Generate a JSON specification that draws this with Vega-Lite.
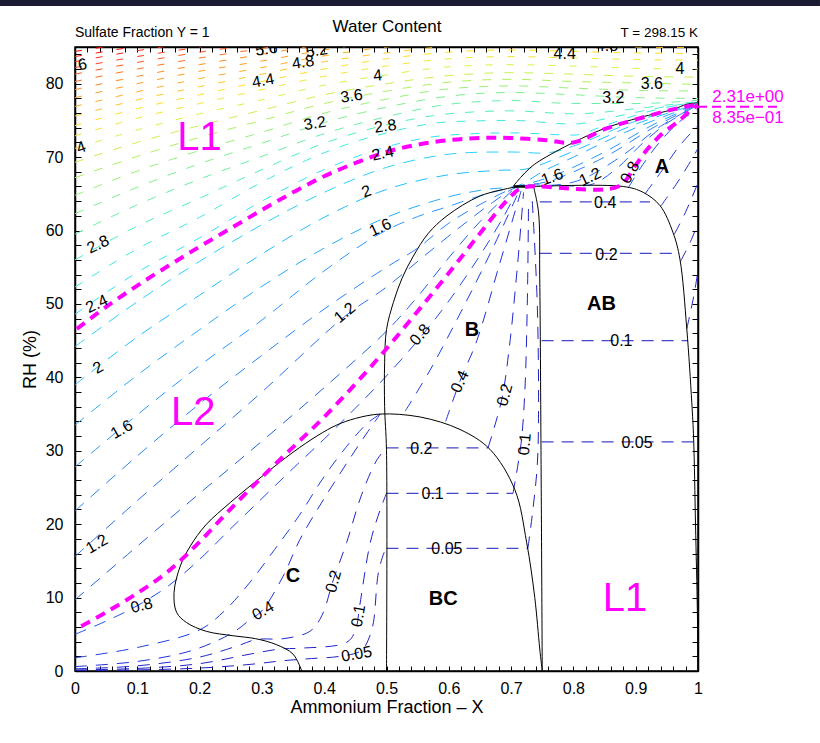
{
"$schema":"https://vega.github.io/schema/vega-lite/v6.json",
"width":623,"height":624,
"autosize":{"type":"none"},
"padding":{"left":75,"top":47,"right":122,"bottom":72},
"background":"white",
"config":{"font":"Liberation Sans","view":{"stroke":"black","strokeWidth":1.5}},
"resolve":{"axis":{"x":"independent","y":"independent"}},
"datasets":{
"cont":[
{"v":2.4,"s":"u24","x":0,"y":48.6},{"v":2.4,"s":"u24","x":0.1,"y":54.3},{"v":2.4,"s":"u24","x":0.2,"y":59.0},{"v":2.4,"s":"u24","x":0.3,"y":64.0},{"v":2.4,"s":"u24","x":0.4,"y":68.3},{"v":2.4,"s":"u24","x":0.5,"y":71.4},{"v":2.4,"s":"u24","x":0.6,"y":73.0},{"v":2.4,"s":"u24","x":0.7,"y":73.3},{"v":2.4,"s":"u24","x":0.8,"y":73.0},{"v":2.4,"s":"u24","x":0.85,"y":74.3},{"v":2.4,"s":"u24","x":0.9,"y":75.7},{"v":2.4,"s":"u24","x":0.95,"y":76.8},{"v":2.4,"s":"u24","x":1,"y":77.38},
{"v":2.6,"s":"u26","x":0,"y":52.3},{"v":2.6,"s":"u26","x":0.1,"y":57.5},{"v":2.6,"s":"u26","x":0.2,"y":61.8},{"v":2.6,"s":"u26","x":0.3,"y":66.6},{"v":2.6,"s":"u26","x":0.4,"y":70.6},{"v":2.6,"s":"u26","x":0.5,"y":73.3},{"v":2.6,"s":"u26","x":0.6,"y":74.8},{"v":2.6,"s":"u26","x":0.7,"y":75.0},{"v":2.6,"s":"u26","x":0.8,"y":74.5},{"v":2.6,"s":"u26","x":0.85,"y":75.2},{"v":2.6,"s":"u26","x":0.9,"y":76.1},{"v":2.6,"s":"u26","x":0.95,"y":76.9},{"v":2.6,"s":"u26","x":1,"y":77.45},
{"v":2.8,"s":"u28","x":0,"y":56.0},{"v":2.8,"s":"u28","x":0.1,"y":60.6},{"v":2.8,"s":"u28","x":0.2,"y":64.4},{"v":2.8,"s":"u28","x":0.3,"y":68.3},{"v":2.8,"s":"u28","x":0.4,"y":71.9},{"v":2.8,"s":"u28","x":0.5,"y":74.4},{"v":2.8,"s":"u28","x":0.6,"y":75.9},{"v":2.8,"s":"u28","x":0.7,"y":76.3},{"v":2.8,"s":"u28","x":0.8,"y":75.9},{"v":2.8,"s":"u28","x":0.9,"y":76.6},{"v":2.8,"s":"u28","x":0.95,"y":77.1},{"v":2.8,"s":"u28","x":1,"y":77.55},
{"v":3.0,"s":"u30","x":0,"y":59.5},{"v":3.0,"s":"u30","x":0.1,"y":63.5},{"v":3.0,"s":"u30","x":0.2,"y":67.0},{"v":3.0,"s":"u30","x":0.3,"y":70.1},{"v":3.0,"s":"u30","x":0.4,"y":73.2},{"v":3.0,"s":"u30","x":0.5,"y":75.5},{"v":3.0,"s":"u30","x":0.6,"y":77.2},{"v":3.0,"s":"u30","x":0.7,"y":77.7},{"v":3.0,"s":"u30","x":0.8,"y":77.3},{"v":3.0,"s":"u30","x":0.9,"y":77.3},{"v":3.0,"s":"u30","x":1,"y":77.75},
{"v":3.2,"s":"u32","x":0,"y":62.3},{"v":3.2,"s":"u32","x":0.1,"y":65.9},{"v":3.2,"s":"u32","x":0.2,"y":69.1},{"v":3.2,"s":"u32","x":0.3,"y":71.9},{"v":3.2,"s":"u32","x":0.4,"y":74.7},{"v":3.2,"s":"u32","x":0.5,"y":76.8},{"v":3.2,"s":"u32","x":0.6,"y":78.3},{"v":3.2,"s":"u32","x":0.7,"y":78.8},{"v":3.2,"s":"u32","x":0.8,"y":78.5},{"v":3.2,"s":"u32","x":0.9,"y":78.1},{"v":3.2,"s":"u32","x":1,"y":78.0},
{"v":3.4,"s":"u34","x":0,"y":64.8},{"v":3.4,"s":"u34","x":0.1,"y":68.1},{"v":3.4,"s":"u34","x":0.2,"y":70.9},{"v":3.4,"s":"u34","x":0.3,"y":73.4},{"v":3.4,"s":"u34","x":0.4,"y":76.0},{"v":3.4,"s":"u34","x":0.5,"y":77.9},{"v":3.4,"s":"u34","x":0.6,"y":79.3},{"v":3.4,"s":"u34","x":0.7,"y":79.7},{"v":3.4,"s":"u34","x":0.8,"y":79.4},{"v":3.4,"s":"u34","x":0.9,"y":79.1},{"v":3.4,"s":"u34","x":1,"y":79.0},
{"v":3.6,"s":"u36","x":0,"y":67.2},{"v":3.6,"s":"u36","x":0.1,"y":70.1},{"v":3.6,"s":"u36","x":0.2,"y":72.7},{"v":3.6,"s":"u36","x":0.3,"y":75.0},{"v":3.6,"s":"u36","x":0.4,"y":77.3},{"v":3.6,"s":"u36","x":0.5,"y":79.0},{"v":3.6,"s":"u36","x":0.6,"y":80.2},{"v":3.6,"s":"u36","x":0.7,"y":80.6},{"v":3.6,"s":"u36","x":0.8,"y":80.3},{"v":3.6,"s":"u36","x":0.9,"y":80.1},{"v":3.6,"s":"u36","x":1,"y":79.9},
{"v":3.8,"s":"u38","x":0,"y":69.3},{"v":3.8,"s":"u38","x":0.1,"y":72.0},{"v":3.8,"s":"u38","x":0.2,"y":74.3},{"v":3.8,"s":"u38","x":0.3,"y":76.4},{"v":3.8,"s":"u38","x":0.4,"y":78.5},{"v":3.8,"s":"u38","x":0.5,"y":80.0},{"v":3.8,"s":"u38","x":0.6,"y":81.1},{"v":3.8,"s":"u38","x":0.7,"y":81.5},{"v":3.8,"s":"u38","x":0.8,"y":81.3},{"v":3.8,"s":"u38","x":0.9,"y":81.0},{"v":3.8,"s":"u38","x":1,"y":80.9},
{"v":4.0,"s":"u40","x":0,"y":71.2},{"v":4.0,"s":"u40","x":0.1,"y":73.7},{"v":4.0,"s":"u40","x":0.2,"y":75.9},{"v":4.0,"s":"u40","x":0.3,"y":77.8},{"v":4.0,"s":"u40","x":0.4,"y":79.8},{"v":4.0,"s":"u40","x":0.5,"y":81.2},{"v":4.0,"s":"u40","x":0.6,"y":82.3},{"v":4.0,"s":"u40","x":0.7,"y":82.6},{"v":4.0,"s":"u40","x":0.8,"y":82.4},{"v":4.0,"s":"u40","x":0.9,"y":82.1},{"v":4.0,"s":"u40","x":1,"y":82.0},
{"v":4.2,"s":"u42","x":0,"y":72.9},{"v":4.2,"s":"u42","x":0.1,"y":75.3},{"v":4.2,"s":"u42","x":0.2,"y":77.3},{"v":4.2,"s":"u42","x":0.3,"y":79.2},{"v":4.2,"s":"u42","x":0.4,"y":81.0},{"v":4.2,"s":"u42","x":0.5,"y":82.4},{"v":4.2,"s":"u42","x":0.6,"y":83.4},{"v":4.2,"s":"u42","x":0.7,"y":83.7},{"v":4.2,"s":"u42","x":0.8,"y":83.5},{"v":4.2,"s":"u42","x":0.9,"y":83.3},{"v":4.2,"s":"u42","x":1,"y":83.2},
{"v":4.4,"s":"u44","x":0,"y":74.3},{"v":4.4,"s":"u44","x":0.1,"y":76.6},{"v":4.4,"s":"u44","x":0.2,"y":78.5},{"v":4.4,"s":"u44","x":0.3,"y":80.3},{"v":4.4,"s":"u44","x":0.4,"y":82.0},{"v":4.4,"s":"u44","x":0.5,"y":83.4},{"v":4.4,"s":"u44","x":0.6,"y":84.3},{"v":4.4,"s":"u44","x":0.7,"y":84.6},{"v":4.4,"s":"u44","x":0.8,"y":84.4},{"v":4.4,"s":"u44","x":0.9,"y":84.2},{"v":4.4,"s":"u44","x":1,"y":84.1},
{"v":4.6,"s":"u46","x":0,"y":75.6},{"v":4.6,"s":"u46","x":0.1,"y":77.8},{"v":4.6,"s":"u46","x":0.2,"y":79.6},{"v":4.6,"s":"u46","x":0.3,"y":81.3},{"v":4.6,"s":"u46","x":0.4,"y":83.0},{"v":4.6,"s":"u46","x":0.5,"y":84.2},{"v":4.6,"s":"u46","x":0.6,"y":85.1},{"v":4.6,"s":"u46","x":0.7,"y":85.4},{"v":4.6,"s":"u46","x":0.8,"y":85.2},{"v":4.6,"s":"u46","x":0.9,"y":85.0},{"v":4.6,"s":"u46","x":1,"y":84.9},
{"v":4.8,"s":"u48","x":0,"y":76.9},{"v":4.8,"s":"u48","x":0.1,"y":78.9},{"v":4.8,"s":"u48","x":0.2,"y":80.7},{"v":4.8,"s":"u48","x":0.3,"y":82.2},{"v":4.8,"s":"u48","x":0.4,"y":83.8},{"v":4.8,"s":"u48","x":0.5,"y":85.0},{"v":4.8,"s":"u48","x":0.6,"y":85.8},{"v":4.8,"s":"u48","x":0.7,"y":86.1},
{"v":5.0,"s":"u50","x":0,"y":78.1},{"v":5.0,"s":"u50","x":0.1,"y":80.0},{"v":5.0,"s":"u50","x":0.2,"y":81.7},{"v":5.0,"s":"u50","x":0.3,"y":83.1},{"v":5.0,"s":"u50","x":0.4,"y":84.6},{"v":5.0,"s":"u50","x":0.5,"y":85.8},{"v":5.0,"s":"u50","x":0.6,"y":86.5},
{"v":5.2,"s":"u52","x":0,"y":79.2},{"v":5.2,"s":"u52","x":0.1,"y":81.0},{"v":5.2,"s":"u52","x":0.2,"y":82.6},{"v":5.2,"s":"u52","x":0.3,"y":84.0},{"v":5.2,"s":"u52","x":0.4,"y":85.4},{"v":5.2,"s":"u52","x":0.5,"y":86.4},
{"v":5.4,"s":"u54","x":0,"y":80.3},{"v":5.4,"s":"u54","x":0.1,"y":82.0},{"v":5.4,"s":"u54","x":0.2,"y":83.5},{"v":5.4,"s":"u54","x":0.3,"y":84.8},{"v":5.4,"s":"u54","x":0.4,"y":86.1},
{"v":5.6,"s":"u56","x":0,"y":81.3},{"v":5.6,"s":"u56","x":0.1,"y":82.9},{"v":5.6,"s":"u56","x":0.2,"y":84.3},{"v":5.6,"s":"u56","x":0.3,"y":85.5},{"v":5.6,"s":"u56","x":0.4,"y":86.8},
{"v":5.8,"s":"u58","x":0,"y":82.2},{"v":5.8,"s":"u58","x":0.1,"y":83.7},{"v":5.8,"s":"u58","x":0.2,"y":85.0},{"v":5.8,"s":"u58","x":0.3,"y":86.2},
{"v":6.0,"s":"u60","x":0,"y":83.0},{"v":6.0,"s":"u60","x":0.1,"y":84.5},{"v":6.0,"s":"u60","x":0.2,"y":85.7},{"v":6.0,"s":"u60","x":0.3,"y":86.8},
{"v":6.2,"s":"u62","x":0,"y":83.7},{"v":6.2,"s":"u62","x":0.1,"y":85.1},{"v":6.2,"s":"u62","x":0.2,"y":86.3},
{"v":6.4,"s":"u64","x":0,"y":84.4},{"v":6.4,"s":"u64","x":0.1,"y":85.7},{"v":6.4,"s":"u64","x":0.2,"y":86.9},
{"v":1.0,"s":"l10","x":0,"y":9.7},{"v":1.0,"s":"l10","x":0.1,"y":17.0},{"v":1.0,"s":"l10","x":0.2,"y":24.2},{"v":1.0,"s":"l10","x":0.3,"y":31.3},{"v":1.0,"s":"l10","x":0.4,"y":38.6},{"v":1.0,"s":"l10","x":0.5,"y":46.3},{"v":1.0,"s":"l10","x":0.55,"y":51.0},{"v":1.0,"s":"l10","x":0.6,"y":56.3},{"v":1.0,"s":"l10","x":0.65,"y":61.2},{"v":1.0,"s":"l10","x":0.69,"y":64.5},{"v":1.0,"s":"l10","x":0.712,"y":65.95},{"v":1.0,"s":"l10","x":0.77,"y":66.1},{"v":1.0,"s":"l10","x":0.83,"y":66.3},{"v":1.0,"s":"l10","x":0.87,"y":68.5},{"v":1.0,"s":"l10","x":0.91,"y":71.8},{"v":1.0,"s":"l10","x":0.95,"y":74.6},{"v":1.0,"s":"l10","x":1,"y":77.1},
{"v":1.2,"s":"l12","x":0,"y":15.6},{"v":1.2,"s":"l12","x":0.1,"y":23.2},{"v":1.2,"s":"l12","x":0.2,"y":30.6},{"v":1.2,"s":"l12","x":0.3,"y":38.0},{"v":1.2,"s":"l12","x":0.433,"y":48.3},{"v":1.2,"s":"l12","x":0.5,"y":52.3},{"v":1.2,"s":"l12","x":0.56,"y":56.5},{"v":1.2,"s":"l12","x":0.62,"y":60.6},{"v":1.2,"s":"l12","x":0.67,"y":63.8},{"v":1.2,"s":"l12","x":0.712,"y":66.0},{"v":1.2,"s":"l12","x":0.77,"y":66.2},{"v":1.2,"s":"l12","x":0.8,"y":66.6},{"v":1.2,"s":"l12","x":0.827,"y":67.5},{"v":1.2,"s":"l12","x":0.88,"y":70.3},{"v":1.2,"s":"l12","x":0.94,"y":74.2},{"v":1.2,"s":"l12","x":1,"y":77.15},
{"v":1.4,"s":"l14","x":0,"y":21.8},{"v":1.4,"s":"l14","x":0.1,"y":29.3},{"v":1.4,"s":"l14","x":0.2,"y":36.4},{"v":1.4,"s":"l14","x":0.3,"y":43.0},{"v":1.4,"s":"l14","x":0.4,"y":49.3},{"v":1.4,"s":"l14","x":0.5,"y":55.0},{"v":1.4,"s":"l14","x":0.55,"y":57.6},{"v":1.4,"s":"l14","x":0.6,"y":61.0},{"v":1.4,"s":"l14","x":0.66,"y":64.0},{"v":1.4,"s":"l14","x":0.712,"y":66.0},{"v":1.4,"s":"l14","x":0.76,"y":66.7},{"v":1.4,"s":"l14","x":0.85,"y":70.0},{"v":1.4,"s":"l14","x":0.93,"y":74.1},{"v":1.4,"s":"l14","x":1,"y":77.2},
{"v":1.6,"s":"l16","x":0,"y":27.8},{"v":1.6,"s":"l16","x":0.1,"y":34.9},{"v":1.6,"s":"l16","x":0.2,"y":41.6},{"v":1.6,"s":"l16","x":0.3,"y":47.8},{"v":1.6,"s":"l16","x":0.4,"y":54.5},{"v":1.6,"s":"l16","x":0.49,"y":59.6},{"v":1.6,"s":"l16","x":0.55,"y":61.9},{"v":1.6,"s":"l16","x":0.6,"y":63.3},{"v":1.6,"s":"l16","x":0.66,"y":65.0},{"v":1.6,"s":"l16","x":0.712,"y":66.05},{"v":1.6,"s":"l16","x":0.766,"y":67.4},{"v":1.6,"s":"l16","x":0.85,"y":70.7},{"v":1.6,"s":"l16","x":0.93,"y":74.5},{"v":1.6,"s":"l16","x":1,"y":77.22},
{"v":1.8,"s":"l18","x":0,"y":33.5},{"v":1.8,"s":"l18","x":0.1,"y":40.3},{"v":1.8,"s":"l18","x":0.2,"y":46.5},{"v":1.8,"s":"l18","x":0.3,"y":52.4},{"v":1.8,"s":"l18","x":0.4,"y":57.6},{"v":1.8,"s":"l18","x":0.5,"y":61.8},{"v":1.8,"s":"l18","x":0.6,"y":64.6},{"v":1.8,"s":"l18","x":0.66,"y":65.6},{"v":1.8,"s":"l18","x":0.712,"y":66.15},{"v":1.8,"s":"l18","x":0.75,"y":68.0},{"v":1.8,"s":"l18","x":0.8,"y":70.0},{"v":1.8,"s":"l18","x":0.9,"y":74.0},{"v":1.8,"s":"l18","x":1,"y":77.24},
{"v":2.0,"s":"l20","x":0,"y":39.0},{"v":2.0,"s":"l20","x":0.1,"y":45.5},{"v":2.0,"s":"l20","x":0.2,"y":51.2},{"v":2.0,"s":"l20","x":0.3,"y":56.8},{"v":2.0,"s":"l20","x":0.4,"y":61.8},{"v":2.0,"s":"l20","x":0.5,"y":65.6},{"v":2.0,"s":"l20","x":0.6,"y":67.6},{"v":2.0,"s":"l20","x":0.68,"y":68.2},{"v":2.0,"s":"l20","x":0.725,"y":68.4},{"v":2.0,"s":"l20","x":0.8,"y":70.8},{"v":2.0,"s":"l20","x":0.9,"y":74.5},{"v":2.0,"s":"l20","x":1,"y":77.26},
{"v":2.2,"s":"l22","x":0,"y":44.2},{"v":2.2,"s":"l22","x":0.1,"y":50.3},{"v":2.2,"s":"l22","x":0.2,"y":55.8},{"v":2.2,"s":"l22","x":0.3,"y":60.8},{"v":2.2,"s":"l22","x":0.4,"y":65.2},{"v":2.2,"s":"l22","x":0.5,"y":68.6},{"v":2.2,"s":"l22","x":0.6,"y":70.4},{"v":2.2,"s":"l22","x":0.7,"y":70.7},{"v":2.2,"s":"l22","x":0.76,"y":70.6},{"v":2.2,"s":"l22","x":0.8,"y":71.5},{"v":2.2,"s":"l22","x":0.9,"y":74.9},{"v":2.2,"s":"l22","x":1,"y":77.28},
{"v":0.8,"s":"l08","x":0,"y":5.0},{"v":0.8,"s":"l08","x":0.05,"y":6.8},{"v":0.8,"s":"l08","x":0.1,"y":8.9},{"v":0.8,"s":"l08","x":0.15,"y":11.6},{"v":0.8,"s":"l08","x":0.2,"y":15.2},{"v":0.8,"s":"l08","x":0.25,"y":19.4},{"v":0.8,"s":"l08","x":0.3,"y":23.5},{"v":0.8,"s":"l08","x":0.35,"y":27.6},{"v":0.8,"s":"l08","x":0.4,"y":31.6},{"v":0.8,"s":"l08","x":0.45,"y":35.8},{"v":0.8,"s":"l08","x":0.5,"y":40.2},{"v":0.8,"s":"l08","x":0.554,"y":45.4},{"v":0.8,"s":"l08","x":0.6,"y":50.4},{"v":0.8,"s":"l08","x":0.65,"y":56.6},{"v":0.8,"s":"l08","x":0.69,"y":62.2},{"v":0.8,"s":"l08","x":0.712,"y":65.8},
{"v":0.8,"s":"a08","x":0.888,"y":65.8},{"v":0.8,"s":"a08","x":0.91,"y":68.8},{"v":0.8,"s":"a08","x":0.94,"y":72.2},{"v":0.8,"s":"a08","x":0.97,"y":74.8},{"v":0.8,"s":"a08","x":1,"y":76.6},
{"v":0.6,"s":"c06","x":0,"y":1.8},{"v":0.6,"s":"c06","x":0.1,"y":3.2},{"v":0.6,"s":"c06","x":0.2,"y":5.6},{"v":0.6,"s":"c06","x":0.24,"y":8.2},{"v":0.6,"s":"c06","x":0.28,"y":12.0},{"v":0.6,"s":"c06","x":0.32,"y":16.5},{"v":0.6,"s":"c06","x":0.36,"y":21.2},{"v":0.6,"s":"c06","x":0.4,"y":26.5},{"v":0.6,"s":"c06","x":0.44,"y":31.0},{"v":0.6,"s":"c06","x":0.47,"y":33.8},{"v":0.6,"s":"c06","x":0.49,"y":35.0},
{"v":0.6,"s":"b06","x":0.53,"y":35.4},{"v":0.6,"s":"b06","x":0.57,"y":41.0},{"v":0.6,"s":"b06","x":0.62,"y":49.0},{"v":0.6,"s":"b06","x":0.67,"y":57.5},{"v":0.6,"s":"b06","x":0.714,"y":65.6},
{"v":0.6,"s":"a06","x":0.915,"y":65.0},{"v":0.6,"s":"a06","x":0.945,"y":68.5},{"v":0.6,"s":"a06","x":0.97,"y":71.5},{"v":0.6,"s":"a06","x":1,"y":74.3},
{"v":0.4,"s":"c04","x":0,"y":0.6},{"v":0.4,"s":"c04","x":0.1,"y":1.3},{"v":0.4,"s":"c04","x":0.18,"y":2.6},{"v":0.4,"s":"c04","x":0.23,"y":4.2},{"v":0.4,"s":"c04","x":0.26,"y":5.6},{"v":0.4,"s":"c04","x":0.281,"y":7.0},{"v":0.4,"s":"c04","x":0.3,"y":8.2},{"v":0.4,"s":"c04","x":0.334,"y":12.9},{"v":0.4,"s":"c04","x":0.361,"y":17.9},{"v":0.4,"s":"c04","x":0.4,"y":23.5},{"v":0.4,"s":"c04","x":0.44,"y":28.8},{"v":0.4,"s":"c04","x":0.47,"y":32.6},{"v":0.4,"s":"c04","x":0.49,"y":35.0},
{"v":0.4,"s":"b04","x":0.595,"y":34.0},{"v":0.4,"s":"b04","x":0.618,"y":39.5},{"v":0.4,"s":"b04","x":0.645,"y":45.0},{"v":0.4,"s":"b04","x":0.68,"y":55.0},{"v":0.4,"s":"b04","x":0.716,"y":65.4},
{"v":0.4,"s":"a04","x":0.94,"y":63.3},{"v":0.4,"s":"a04","x":0.965,"y":66.3},{"v":0.4,"s":"a04","x":0.985,"y":69.0},{"v":0.4,"s":"a04","x":1,"y":71.2},
{"v":0.2,"s":"c02","x":0,"y":0.3},{"v":0.2,"s":"c02","x":0.1,"y":0.7},{"v":0.2,"s":"c02","x":0.2,"y":1.9},{"v":0.2,"s":"c02","x":0.26,"y":3.4},{"v":0.2,"s":"c02","x":0.292,"y":4.3},{"v":0.2,"s":"c02","x":0.334,"y":4.4},{"v":0.2,"s":"c02","x":0.377,"y":5.4},{"v":0.2,"s":"c02","x":0.396,"y":7.5},{"v":0.2,"s":"c02","x":0.415,"y":12.5},{"v":0.2,"s":"c02","x":0.436,"y":17.5},{"v":0.2,"s":"c02","x":0.46,"y":24.0},{"v":0.2,"s":"c02","x":0.485,"y":28.8},{"v":0.2,"s":"c02","x":0.5,"y":30.4},
{"v":0.2,"s":"b02","x":0.663,"y":30.4},{"v":0.2,"s":"b02","x":0.685,"y":37.0},{"v":0.2,"s":"b02","x":0.697,"y":44.0},{"v":0.2,"s":"b02","x":0.71,"y":55.0},{"v":0.2,"s":"b02","x":0.72,"y":65.2},
{"v":0.2,"s":"a02","x":0.962,"y":59.5},{"v":0.2,"s":"a02","x":0.98,"y":62.5},{"v":0.2,"s":"a02","x":1,"y":66.5},
{"v":0.1,"s":"c01","x":0,"y":0.15},{"v":0.1,"s":"c01","x":0.1,"y":0.35},{"v":0.1,"s":"c01","x":0.2,"y":1.0},{"v":0.1,"s":"c01","x":0.281,"y":2.3},{"v":0.1,"s":"c01","x":0.33,"y":3.0},{"v":0.1,"s":"c01","x":0.361,"y":3.1},{"v":0.1,"s":"c01","x":0.436,"y":3.9},{"v":0.1,"s":"c01","x":0.45,"y":5.5},{"v":0.1,"s":"c01","x":0.457,"y":8.9},{"v":0.1,"s":"c01","x":0.474,"y":17.5},{"v":0.1,"s":"c01","x":0.49,"y":22.0},{"v":0.1,"s":"c01","x":0.5,"y":24.2},
{"v":0.1,"s":"b01","x":0.703,"y":24.2},{"v":0.1,"s":"b01","x":0.716,"y":31.0},{"v":0.1,"s":"b01","x":0.722,"y":38.0},{"v":0.1,"s":"b01","x":0.726,"y":50.0},{"v":0.1,"s":"b01","x":0.728,"y":64.0},
{"v":0.1,"s":"a01","x":0.972,"y":55.8},{"v":0.1,"s":"a01","x":0.988,"y":58.5},{"v":0.1,"s":"a01","x":1,"y":61.0},
{"v":0.05,"s":"c005","x":0,"y":0.07},{"v":0.05,"s":"c005","x":0.1,"y":0.15},{"v":0.05,"s":"c005","x":0.2,"y":0.4},{"v":0.05,"s":"c005","x":0.281,"y":0.9},{"v":0.05,"s":"c005","x":0.334,"y":1.4},{"v":0.05,"s":"c005","x":0.38,"y":1.7},{"v":0.05,"s":"c005","x":0.425,"y":2.0},{"v":0.05,"s":"c005","x":0.46,"y":2.8},{"v":0.05,"s":"c005","x":0.472,"y":4.5},{"v":0.05,"s":"c005","x":0.479,"y":6.6},{"v":0.05,"s":"c005","x":0.487,"y":13.4},{"v":0.05,"s":"c005","x":0.497,"y":16.3},{"v":0.05,"s":"c005","x":0.5,"y":16.7},
{"v":0.05,"s":"b005","x":0.727,"y":16.7},{"v":0.05,"s":"b005","x":0.735,"y":22.0},{"v":0.05,"s":"b005","x":0.742,"y":28.0},{"v":0.05,"s":"b005","x":0.744,"y":35.0},{"v":0.05,"s":"b005","x":0.742,"y":50.0},{"v":0.05,"s":"b005","x":0.734,"y":64.0},
{"v":0.05,"s":"a005","x":0.982,"y":46.6},{"v":0.05,"s":"a005","x":0.993,"y":51.0},{"v":0.05,"s":"a005","x":1,"y":54.5}
],
"ties":[
{"s":"t1","x":0.746,"y":63.9},{"s":"t1","x":0.923,"y":63.9},
{"s":"t2","x":0.746,"y":56.9},{"s":"t2","x":0.968,"y":56.9},
{"s":"t3","x":0.749,"y":45.0},{"s":"t3","x":0.984,"y":45.0},
{"s":"t4","x":0.749,"y":31.2},{"s":"t4","x":0.992,"y":31.2},
{"s":"t5","x":0.5,"y":30.4},{"s":"t5","x":0.663,"y":30.4},
{"s":"t6","x":0.5,"y":24.2},{"s":"t6","x":0.703,"y":24.2},
{"s":"t7","x":0.5,"y":16.7},{"s":"t7","x":0.727,"y":16.7}
],
"bd":[
{"s":"C","x":0.364,"y":0},{"s":"C","x":0.35,"y":2.3},{"s":"C","x":0.323,"y":3.6},{"s":"C","x":0.29,"y":4.4},{"s":"C","x":0.254,"y":4.8},{"s":"C","x":0.211,"y":5.4},{"s":"C","x":0.179,"y":6.6},{"s":"C","x":0.163,"y":8},{"s":"C","x":0.159,"y":10.7},{"s":"C","x":0.169,"y":14.3},{"s":"C","x":0.185,"y":17},{"s":"C","x":0.21,"y":19.9},{"s":"C","x":0.25,"y":23.0},{"s":"C","x":0.3,"y":26.5},{"s":"C","x":0.35,"y":29.8},{"s":"C","x":0.39,"y":32.1},{"s":"C","x":0.42,"y":33.5},{"s":"C","x":0.45,"y":34.4},{"s":"C","x":0.49,"y":35},{"s":"C","x":0.554,"y":34.6},{"s":"C","x":0.618,"y":32.9},{"s":"C","x":0.666,"y":30.2},{"s":"C","x":0.706,"y":24.7},{"s":"C","x":0.725,"y":17.5},{"s":"C","x":0.738,"y":10},{"s":"C","x":0.746,"y":3},{"s":"C","x":0.75,"y":0},
{"s":"V5","x":0.5,"y":0},{"s":"V5","x":0.5,"y":30},{"s":"V5","x":0.497,"y":36},{"s":"V5","x":0.497,"y":42},{"s":"V5","x":0.5,"y":46.5},{"s":"V5","x":0.511,"y":50.2},{"s":"V5","x":0.525,"y":53.5},{"s":"V5","x":0.543,"y":56.5},{"s":"V5","x":0.567,"y":59.6},{"s":"V5","x":0.597,"y":62},{"s":"V5","x":0.65,"y":64.7},{"s":"V5","x":0.704,"y":65.9},{"s":"V5","x":0.709,"y":66},
{"s":"V75","x":0.736,"y":66},{"s":"V75","x":0.744,"y":62.5},{"s":"V75","x":0.746,"y":53.4},{"s":"V75","x":0.748,"y":30},{"s":"V75","x":0.75,"y":0},
{"s":"AB","x":0.736,"y":66},{"s":"AB","x":0.88,"y":66},{"s":"AB","x":0.912,"y":65.2},{"s":"AB","x":0.939,"y":63.4},{"s":"AB","x":0.96,"y":59.7},{"s":"AB","x":0.971,"y":56.1},{"s":"AB","x":0.982,"y":46.6},{"s":"AB","x":0.99,"y":36.6},{"s":"AB","x":0.993,"y":31.6},{"s":"AB","x":0.996,"y":20},{"s":"AB","x":0.999,"y":8},{"s":"AB","x":1,"y":0},
{"s":"AU","x":0.704,"y":66.1},{"s":"AU","x":0.715,"y":67.2},{"s":"AU","x":0.73,"y":68.5},{"s":"AU","x":0.746,"y":69.5},{"s":"AU","x":0.8,"y":72},{"s":"AU","x":0.853,"y":74},{"s":"AU","x":0.907,"y":75.4},{"s":"AU","x":0.96,"y":76.5},{"s":"AU","x":0.982,"y":77.2},{"s":"AU","x":1,"y":77.4},
{"s":"TH","x":0.704,"y":66},{"s":"TH","x":0.736,"y":66}
],
"mg":[
{"s":"M1","x":0.003,"y":46.6},{"s":"M1","x":0.05,"y":49.6},{"s":"M1","x":0.1,"y":52.5},{"s":"M1","x":0.15,"y":55.2},{"s":"M1","x":0.2,"y":57.8},{"s":"M1","x":0.25,"y":60.3},{"s":"M1","x":0.3,"y":62.8},{"s":"M1","x":0.35,"y":65.2},{"s":"M1","x":0.4,"y":67.4},{"s":"M1","x":0.45,"y":69.2},{"s":"M1","x":0.5,"y":70.7},{"s":"M1","x":0.55,"y":71.7},{"s":"M1","x":0.6,"y":72.3},{"s":"M1","x":0.65,"y":72.6},{"s":"M1","x":0.7,"y":72.6},{"s":"M1","x":0.757,"y":72.3},{"s":"M1","x":0.8,"y":72.0},{"s":"M1","x":0.853,"y":73.9},{"s":"M1","x":0.907,"y":75.3},{"s":"M1","x":0.96,"y":76.5},{"s":"M1","x":1,"y":77.2},
{"s":"M2","x":0.01,"y":6.1},{"s":"M2","x":0.05,"y":8.0},{"s":"M2","x":0.1,"y":10.6},{"s":"M2","x":0.15,"y":13.6},{"s":"M2","x":0.2,"y":17.6},{"s":"M2","x":0.25,"y":22.1},{"s":"M2","x":0.3,"y":26.4},{"s":"M2","x":0.35,"y":30.5},{"s":"M2","x":0.4,"y":34.6},{"s":"M2","x":0.45,"y":39.1},{"s":"M2","x":0.5,"y":43.9},{"s":"M2","x":0.55,"y":49.0},{"s":"M2","x":0.6,"y":54.2},{"s":"M2","x":0.65,"y":59.6},{"s":"M2","x":0.69,"y":63.8},{"s":"M2","x":0.714,"y":65.7},{"s":"M2","x":0.73,"y":66.0},{"s":"M2","x":0.872,"y":66.0},{"s":"M2","x":0.899,"y":68.8},{"s":"M2","x":0.918,"y":71},{"s":"M2","x":0.944,"y":73.3},{"s":"M2","x":0.966,"y":74.7},{"s":"M2","x":0.99,"y":76.5},{"s":"M2","x":1,"y":77.1}
],
"clab":[
{"x":0.012,"y":82.6,"t":"6","tilt":-10},{"x":0.01,"y":71.3,"t":"4","tilt":-20},
{"x":0.307,"y":84.7,"t":"5.6","tilt":-8},{"x":0.388,"y":84.5,"t":"5.2","tilt":-8},{"x":0.366,"y":82.9,"t":"4.8","tilt":-8},{"x":0.302,"y":80.4,"t":"4.4","tilt":-10},
{"x":0.486,"y":81.1,"t":"4","tilt":-6},{"x":0.444,"y":78.3,"t":"3.6","tilt":-8},{"x":0.385,"y":74.6,"t":"3.2","tilt":-10},{"x":0.498,"y":74.2,"t":"2.8","tilt":-8},
{"x":0.494,"y":70.5,"t":"2.4","tilt":-12},{"x":0.468,"y":65.3,"t":"2","tilt":-20},{"x":0.49,"y":60.4,"t":"1.6","tilt":-25},{"x":0.433,"y":48.8,"t":"1.2","tilt":-40},
{"x":0.554,"y":45.8,"t":"0.8","tilt":-50},{"x":0.618,"y":39.4,"t":"0.4","tilt":-65},{"x":0.69,"y":37.6,"t":"0.2","tilt":-75},{"x":0.722,"y":30.9,"t":"0.1","tilt":-85},
{"x":0.786,"y":84.0,"t":"4.4","tilt":0},{"x":0.854,"y":85.1,"t":"4.8","tilt":0},{"x":0.971,"y":82.0,"t":"4","tilt":0},{"x":0.926,"y":79.9,"t":"3.6","tilt":0},{"x":0.864,"y":78.1,"t":"3.2","tilt":0},
{"x":0.766,"y":67.3,"t":"1.6","tilt":-20},{"x":0.827,"y":67.3,"t":"1.2","tilt":-25},{"x":0.891,"y":67.9,"t":"0.8","tilt":-60},
{"x":0.851,"y":63.7,"t":"0.4","tilt":0},{"x":0.853,"y":56.6,"t":"0.2","tilt":0},{"x":0.877,"y":44.9,"t":"0.1","tilt":0},{"x":0.902,"y":31.1,"t":"0.05","tilt":0},
{"x":0.556,"y":30.3,"t":"0.2","tilt":0},{"x":0.574,"y":24.1,"t":"0.1","tilt":0},{"x":0.597,"y":16.6,"t":"0.05","tilt":0},
{"x":0.037,"y":58.1,"t":"2.8","tilt":-25},{"x":0.035,"y":50.0,"t":"2.4","tilt":-25},{"x":0.037,"y":41.3,"t":"2","tilt":-30},{"x":0.075,"y":32.9,"t":"1.6","tilt":-30},{"x":0.035,"y":17.3,"t":"1.2","tilt":-30},{"x":0.107,"y":8.9,"t":"0.8","tilt":-15},
{"x":0.302,"y":8.2,"t":"0.4","tilt":-30},{"x":0.415,"y":12.2,"t":"0.2","tilt":-75},{"x":0.455,"y":7.5,"t":"0.1","tilt":-80},{"x":0.452,"y":2.3,"t":"0.05","tilt":-10}
]
},
"layer":[
{"data":{"values":[{"x":-0.1204,"x2":1.1958,"y":90.585,"y2":91.4}]},
 "mark":{"type":"rect","color":"#1b1b33","clip":false},
 "encoding":{"x":{"field":"x","type":"quantitative","scale":{"domain":[0,1],"nice":false,"zero":false},"axis":null},"x2":{"field":"x2"},
  "y":{"field":"y","type":"quantitative","scale":{"domain":[0,85],"nice":false,"zero":false},"axis":null},"y2":{"field":"y2"}}},
{"data":{"name":"cont"},"transform":[{"filter":"datum.v < 2.35"}],
 "mark":{"type":"line","clip":true,"strokeWidth":1,"strokeDash":[12,9],"interpolate":"catmull-rom"},
 "encoding":{"x":{"field":"x","type":"quantitative","scale":{"domain":[0,1],"nice":false,"zero":false},"axis":null},
  "y":{"field":"y","type":"quantitative","scale":{"domain":[0,85],"nice":false,"zero":false},"axis":null},
  "detail":{"field":"s"},"order":{"value":null},
  "color":{"field":"v","type":"quantitative","legend":null,"scale":{"domain":[0,0.4,0.8,1.2,1.6,2.0,2.4,2.8,3.2,3.6,4.0,4.4,4.8,5.2,5.6,6.0,6.4],"range":["#2020c0","#2030d8","#2050e8","#2a70f0","#2a98ff","#20c0ff","#30e4f8","#50f0c0","#80f090","#b0f060","#e0f040","#ffe020","#ffb020","#ff8820","#ff5520","#ff2a20","#ff0000"],"interpolate":"rgb"}}}},
{"data":{"name":"cont"},"transform":[{"filter":"datum.v >= 2.35 && datum.v < 3.9"}],
 "mark":{"type":"line","clip":true,"strokeWidth":1,"strokeDash":[9,11],"interpolate":"monotone"},
 "encoding":{"x":{"field":"x","type":"quantitative","scale":{"domain":[0,1],"nice":false,"zero":false},"axis":null},
  "y":{"field":"y","type":"quantitative","scale":{"domain":[0,85],"nice":false,"zero":false},"axis":null},
  "detail":{"field":"s"},"order":{"value":null},
  "color":{"field":"v","type":"quantitative","legend":null}}},
{"data":{"name":"cont"},"transform":[{"filter":"datum.v >= 3.9"}],
 "mark":{"type":"line","clip":true,"strokeWidth":1,"strokeDash":[7,14],"interpolate":"monotone"},
 "encoding":{"x":{"field":"x","type":"quantitative","scale":{"domain":[0,1],"nice":false,"zero":false},"axis":null},
  "y":{"field":"y","type":"quantitative","scale":{"domain":[0,85],"nice":false,"zero":false},"axis":null},
  "detail":{"field":"s"},"order":{"value":null},
  "color":{"field":"v","type":"quantitative","legend":null}}},
{"data":{"name":"ties"},
 "mark":{"type":"line","clip":true,"strokeWidth":1.2,"strokeDash":[12,8],"color":"#4646c8"},
 "encoding":{"x":{"field":"x","type":"quantitative","scale":{"domain":[0,1],"nice":false,"zero":false},"axis":null},
  "y":{"field":"y","type":"quantitative","scale":{"domain":[0,85],"nice":false,"zero":false},"axis":null},
  "detail":{"field":"s"},"order":{"value":null}}},
{"data":{"name":"bd"},"transform":[{"filter":"datum.s !== 'TH'"}],
 "mark":{"type":"line","clip":true,"strokeWidth":1,"color":"black","interpolate":"catmull-rom"},
 "encoding":{"x":{"field":"x","type":"quantitative","scale":{"domain":[0,1],"nice":false,"zero":false},
   "axis":{"orient":"bottom","values":[0,0.02,0.04,0.06,0.08,0.1,0.12,0.14,0.16,0.18,0.2,0.22,0.24,0.26,0.28,0.3,0.32,0.34,0.36,0.38,0.4,0.42,0.44,0.46,0.48,0.5,0.52,0.54,0.56,0.58,0.6,0.62,0.64,0.66,0.68,0.7,0.72,0.74,0.76,0.78,0.8,0.82,0.84,0.86,0.88,0.9,0.92,0.94,0.96,0.98,1],
    "labelExpr":"abs(datum.value*10 - round(datum.value*10)) < 0.000001 ? format(datum.value, '~g') : ''",
    "labelOverlap":false,"labelFlush":false,"labelFontSize":16,"labelColor":"black","labelPadding":14,
    "tickSize":-5,"tickColor":"black","tickWidth":1,"domainColor":"black","domainWidth":1.5,"grid":false,
    "title":"Ammonium Fraction – X","titleFontSize":18,"titleFontWeight":"normal","titleColor":"black","titlePadding":2}},
  "y":{"field":"y","type":"quantitative","scale":{"domain":[0,85],"nice":false,"zero":false},
   "axis":{"orient":"left","values":[0,2,4,6,8,10,12,14,16,18,20,22,24,26,28,30,32,34,36,38,40,42,44,46,48,50,52,54,56,58,60,62,64,66,68,70,72,74,76,78,80,82,84],
    "labelExpr":"datum.value % 10 === 0 ? datum.label : ''",
    "labelOverlap":false,"labelFlush":false,"labelFontSize":16,"labelColor":"black","labelPadding":18,
    "tickSize":-6,"tickColor":"black","tickWidth":1,"domainColor":"black","domainWidth":1.5,"grid":false,
    "title":"RH (%)","titleFontSize":18,"titleFontWeight":"normal","titleColor":"black","titlePadding":6}},
  "detail":{"field":"s"},"order":{"value":null}}},
{"data":{"name":"bd"},"transform":[{"filter":"datum.s === 'TH'"}],
 "mark":{"type":"line","clip":true,"strokeWidth":2.5,"color":"black"},
 "encoding":{"x":{"field":"x","type":"quantitative","scale":{"domain":[0,1],"nice":false,"zero":false},"axis":null},
  "y":{"field":"y","type":"quantitative","scale":{"domain":[0,85],"nice":false,"zero":false},"axis":null},
  "detail":{"field":"s"},"order":{"value":null}}},
{"data":{"name":"mg"},
 "mark":{"type":"line","clip":true,"strokeWidth":4,"strokeDash":[10,7],"color":"#ff00ff","interpolate":"catmull-rom"},
 "encoding":{"x":{"field":"x","type":"quantitative","scale":{"domain":[0,1],"nice":false,"zero":false},
   "axis":{"orient":"top","values":[0,0.02,0.04,0.06,0.08,0.1,0.12,0.14,0.16,0.18,0.2,0.22,0.24,0.26,0.28,0.3,0.32,0.34,0.36,0.38,0.4,0.42,0.44,0.46,0.48,0.5,0.52,0.54,0.56,0.58,0.6,0.62,0.64,0.66,0.68,0.7,0.72,0.74,0.76,0.78,0.8,0.82,0.84,0.86,0.88,0.9,0.92,0.94,0.96,0.98,1],
    "labels":false,"tickSize":-5,"tickColor":"black","tickWidth":1,"domainColor":"black","domainWidth":1.5,"grid":false,"title":null}},
  "y":{"field":"y","type":"quantitative","scale":{"domain":[0,85],"nice":false,"zero":false},
   "axis":{"orient":"right","values":[0,2,4,6,8,10,12,14,16,18,20,22,24,26,28,30,32,34,36,38,40,42,44,46,48,50,52,54,56,58,60,62,64,66,68,70,72,74,76,78,80,82,84],
    "labels":false,"tickSize":-6,"tickColor":"black","tickWidth":1,"domainColor":"black","domainWidth":1.5,"grid":false,"title":null}},
  "detail":{"field":"s"},"order":{"value":null}}},
{"data":{"values":[{"x":1.0,"y":76.87},{"x":1.135,"y":76.87}]},
 "mark":{"type":"line","clip":false,"strokeWidth":2,"strokeDash":[9,5],"color":"#ff00ff"},
 "encoding":{"x":{"field":"x","type":"quantitative","scale":{"domain":[0,1],"nice":false,"zero":false},"axis":null},
  "y":{"field":"y","type":"quantitative","scale":{"domain":[0,85],"nice":false,"zero":false},"axis":null}}},
{"data":{"name":"clab"},
 "mark":{"type":"text","fontSize":16,"color":"black","clip":true},
 "encoding":{"x":{"field":"x","type":"quantitative","scale":{"domain":[0,1],"nice":false,"zero":false},"axis":null},
  "y":{"field":"y","type":"quantitative","scale":{"domain":[0,85],"nice":false,"zero":false},"axis":null},
  "text":{"field":"t"},"angle":{"field":"tilt","type":"quantitative","scale":null}}},
{"data":{"values":[{"x":0.942,"y":68.6,"t":"A"},{"x":0.637,"y":46.5,"t":"B"},{"x":0.845,"y":50.0,"t":"AB"},{"x":0.35,"y":12.9,"t":"C"},{"x":0.591,"y":9.8,"t":"BC"}]},
 "mark":{"type":"text","fontSize":20,"fontWeight":"bold","color":"black"},
 "encoding":{"x":{"field":"x","type":"quantitative","scale":{"domain":[0,1],"nice":false,"zero":false},"axis":null},
  "y":{"field":"y","type":"quantitative","scale":{"domain":[0,85],"nice":false,"zero":false},"axis":null},
  "text":{"field":"t"}}},
{"data":{"values":[{"x":0.2,"y":72.6,"t":"L1"},{"x":0.19,"y":35.2,"t":"L2"},{"x":0.883,"y":9.8,"t":"L1"}]},
 "mark":{"type":"text","fontSize":40,"color":"#ff00ff"},
 "encoding":{"x":{"field":"x","type":"quantitative","scale":{"domain":[0,1],"nice":false,"zero":false},"axis":null},
  "y":{"field":"y","type":"quantitative","scale":{"domain":[0,85],"nice":false,"zero":false},"axis":null},
  "text":{"field":"t"}}},
{"data":{"values":[{"x":1.0803,"y":78.23,"t":"2.31e+00"},{"x":1.0803,"y":75.29,"t":"8.35e−01"}]},
 "mark":{"type":"text","fontSize":17,"color":"#ff00ff","clip":false},
 "encoding":{"x":{"field":"x","type":"quantitative","scale":{"domain":[0,1],"nice":false,"zero":false},"axis":null},
  "y":{"field":"y","type":"quantitative","scale":{"domain":[0,85],"nice":false,"zero":false},"axis":null},
  "text":{"field":"t"}}},
{"data":{"values":[{"x":0.5008,"y":87.72,"t":"Water Content"}]},
 "mark":{"type":"text","fontSize":17,"color":"black","clip":false},
 "encoding":{"x":{"field":"x","type":"quantitative","scale":{"domain":[0,1],"nice":false,"zero":false},"axis":null},
  "y":{"field":"y","type":"quantitative","scale":{"domain":[0,85],"nice":false,"zero":false},"axis":null},
  "text":{"field":"t"}}},
{"data":{"values":[{"x":0,"y":86.91,"t":"Sulfate Fraction Y = 1"}]},
 "mark":{"type":"text","fontSize":14,"color":"black","align":"left","clip":false},
 "encoding":{"x":{"field":"x","type":"quantitative","scale":{"domain":[0,1],"nice":false,"zero":false},"axis":null},
  "y":{"field":"y","type":"quantitative","scale":{"domain":[0,85],"nice":false,"zero":false},"axis":null},
  "text":{"field":"t"}}},
{"data":{"values":[{"x":1.0,"y":86.91,"t":"T = 298.15 K"}]},
 "mark":{"type":"text","fontSize":13.5,"color":"black","align":"right","clip":false},
 "encoding":{"x":{"field":"x","type":"quantitative","scale":{"domain":[0,1],"nice":false,"zero":false},"axis":null},
  "y":{"field":"y","type":"quantitative","scale":{"domain":[0,85],"nice":false,"zero":false},"axis":null},
  "text":{"field":"t"}}}
]
}
